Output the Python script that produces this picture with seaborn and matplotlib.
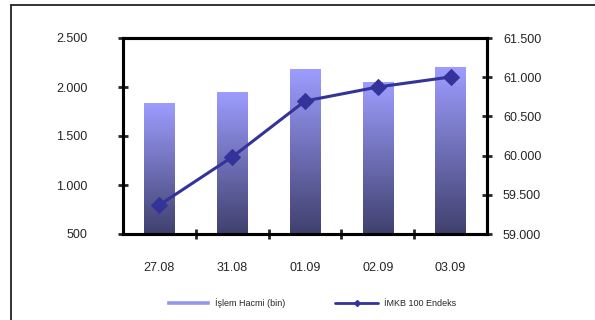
import numpy as np
import pandas as pd
import seaborn as sns
import matplotlib.pyplot as plt
from matplotlib.patches import Rectangle
from matplotlib.lines import Line2D
from matplotlib.colors import LinearSegmentedColormap
from matplotlib.ticker import FuncFormatter, FixedLocator

dates = ["27.08", "31.08", "01.09", "02.09", "03.09"]
volume = [1836, 1949, 2183, 2051, 2204]          # İşlem Hacmi (bin)
index100 = [59370, 59982, 60696, 60875, 61003]   # İMKB 100 Endeks

df = pd.DataFrame({"date": dates, "volume": volume, "index": index100})

sns.set_style("white")
plt.rcParams["font.family"] = ["Liberation Sans", "DejaVu Sans"]

fig = plt.figure(figsize=(5.95, 3.2), dpi=100)
ax = fig.add_axes([123 / 595, 1 - 234 / 320, (487 - 123) / 595, (234 - 38) / 320])

sns.barplot(data=df, x="date", y="volume", ax=ax, width=0.42,
            color="#9999ff", saturation=1, edgecolor="none")

# vertical gradient inside each bar
cmap = LinearSegmentedColormap.from_list("g", ["#40406e", "#9d9dff"])
grad = np.linspace(0, 1, 256).reshape(-1, 1)
for p in list(ax.patches):
    x0, w = p.get_x(), p.get_width()
    top = p.get_y() + p.get_height()
    im = ax.imshow(grad, cmap=cmap, origin="lower", aspect="auto",
                   extent=[x0, x0 + w, 500, top], zorder=2)
    im.set_clip_path(p)
    p.set_facecolor("none")
ax.set_xlim(-0.5, len(dates) - 0.5)
ax.set_ylim(500, 2500)

ax2 = ax.twinx()
sns.lineplot(data=df, x="date", y="index", ax=ax2, color="#333399",
             marker="D", markersize=8, linewidth=2.2, markeredgecolor="#333399")
ax2.set_ylim(59000, 61500)
ax2.set_yticks(np.arange(59000, 61501, 500))

dot = FuncFormatter(lambda v, _: f"{v:,.0f}".replace(",", "."))
ax.yaxis.set_major_formatter(dot)
ax2.yaxis.set_major_formatter(dot)
ax.set_yticks(np.arange(500, 2501, 500))

# category boundaries as ticks, labels at centres
ax.xaxis.set_major_locator(FixedLocator(np.arange(0.5, len(dates) - 1, 1)))
ax.xaxis.set_minor_locator(FixedLocator(range(len(dates))))
ax.set_xticklabels([], minor=False)
ax.set_xticklabels(dates, minor=True)
ax.tick_params(axis="x", which="major", direction="inout", length=7, width=2, bottom=True)
ax.tick_params(axis="x", which="minor", length=0, pad=20, labelsize=9)
ax.tick_params(axis="y", direction="inout", length=7, width=2, left=True, labelsize=9, pad=22)
ax2.tick_params(axis="y", direction="inout", length=7, width=2, right=True, labelsize=9, pad=8)

for a in (ax, ax2):
    a.set_xlabel("")
    a.set_ylabel("")
    for s in a.spines.values():
        s.set_linewidth(2.2)
        s.set_color("black")

# outer frame (left and top edges visible)
fx = 11 / 595
fy = 1 - 5 / 320
fig.add_artist(Line2D([fx, 1], [fy, fy], transform=fig.transFigure,
                      color="#222222", linewidth=1.3))
fig.add_artist(Line2D([fx, fx], [0, fy], transform=fig.transFigure,
                      color="#222222", linewidth=1.3))

handles = [Rectangle((0, 0), 1, 1, facecolor="#9595f0"),
           Line2D([], [], color="#333399", linewidth=2, marker="D", markersize=3)]
fig.legend(handles, ["İşlem Hacmi (bin)", "İMKB 100 Endeks"], ncol=2,
           loc="center", bbox_to_anchor=(0.523, 1 - 303 / 320), frameon=False,
           fontsize=6.5, handlelength=4.8, handleheight=0.55,
           handletextpad=0.6, columnspacing=5.5)

fig.savefig("out.png", dpi=100)
